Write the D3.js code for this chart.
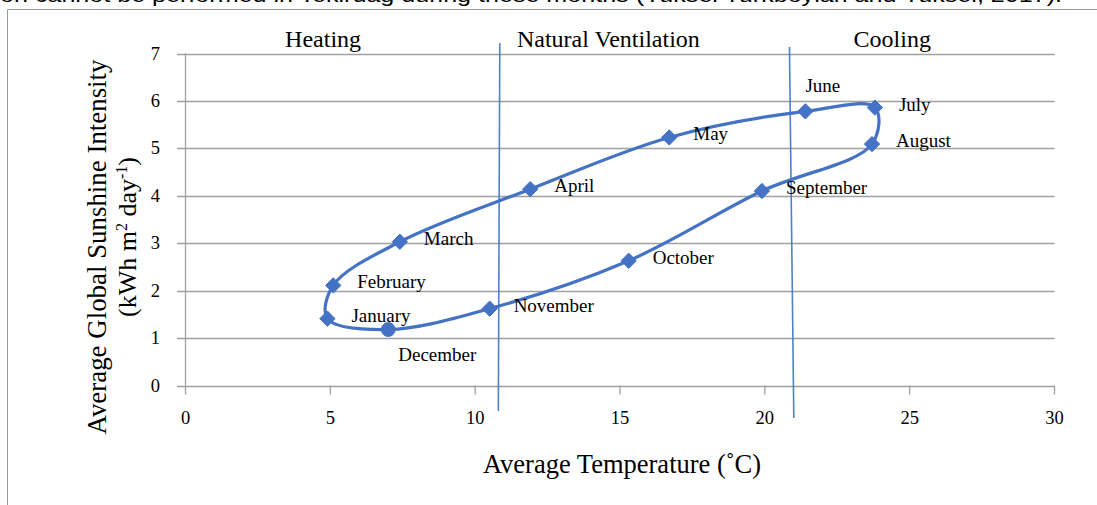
<!DOCTYPE html>
<html><head><meta charset="utf-8">
<script src="https://cdn.jsdelivr.net/npm/d3@7"></script>
<style>html,body{margin:0;padding:0;background:#fff;overflow:hidden}</style>
</head><body>
<svg id="c" width="1097" height="505"></svg>
<script>
const months = ["January","February","March","April","May","June","July","August","September","October","November","December"];
const temperature = [4.9, 5.1, 7.4, 11.9, 16.7, 21.4, 23.8, 23.7, 19.9, 15.3, 10.5, 7.0];
const sunshine = [1.41, 2.11, 3.03, 4.14, 5.23, 5.78, 5.86, 5.09, 4.10, 2.63, 1.62, 1.18];
const markerShapes = ["diamond","diamond","diamond","diamond","diamond","diamond","diamond","diamond","diamond","diamond","diamond","circle"];
const xTicks = [0,5,10,15,20,25,30];
const yTicks = [0,1,2,3,4,5,6,7];
const zones = ["Heating","Natural Ventilation","Cooling"];
const zoneCenters = [4.75, 14.6, 24.4];
const boundaryTop = [10.85, 20.85];
const boundaryBottom = [10.8, 21.0];

const svg = d3.select("#c");
const x = d3.scaleLinear().domain([0,30]).range([185.5,1054.5]);
const y = d3.scaleLinear().domain([0,7]).range([385.5,53.5]);
const blue = "#4472C4";
const serif = "'Liberation Serif','Times New Roman',serif";

// page frame and cut-off text above
svg.append("line").attr("x1",7.5).attr("x2",1097).attr("y1",9.5).attr("y2",9.5).attr("stroke","#9a9a9a").attr("stroke-width",1);
svg.append("line").attr("x1",7.5).attr("x2",7.5).attr("y1",9.5).attr("y2",505).attr("stroke","#9a9a9a").attr("stroke-width",1);
svg.append("text").attr("x",0).attr("y",2).attr("font-family","'Liberation Sans','Open Sans',sans-serif").attr("font-size",20)
  .attr("textLength",1062).attr("lengthAdjust","spacingAndGlyphs").attr("fill","#000")
  .text("on cannot be performed in Tekirdag during these months (Yuksel Turkboylari and Yuksel, 2017).");

// gridlines
svg.append("g").selectAll("line").data(yTicks).join("line")
  .attr("x1",177).attr("x2",x(30)).attr("y1",d=>Math.round(y(d))+0.5).attr("y2",d=>Math.round(y(d))+0.5)
  .attr("stroke","#a0a0a0").attr("stroke-width",1.3);
// y axis line
svg.append("line").attr("x1",x(0)).attr("x2",x(0)).attr("y1",y(7)).attr("y2",y(0)).attr("stroke","#a0a0a0").attr("stroke-width",1.3);
// x axis ticks
svg.append("g").selectAll("line").data(xTicks).join("line")
  .attr("x1",d=>x(d)).attr("x2",d=>x(d)).attr("y1",y(0)).attr("y2",y(0)+9)
  .attr("stroke","#a0a0a0").attr("stroke-width",1.3);

// tick labels
svg.append("g").selectAll("text").data(xTicks).join("text")
  .attr("x",d=>x(d)).attr("y",424).attr("text-anchor","middle").attr("font-family",serif).attr("font-size",18.5).text(d=>d);
svg.append("g").selectAll("text").data(yTicks).join("text")
  .attr("x",160).attr("y",d=>y(d)+6).attr("text-anchor","end").attr("font-family",serif).attr("font-size",18.5).text(d=>d);

// boundaries
svg.append("g").selectAll("line").data(boundaryTop).join("line")
  .attr("x1",d=>x(d)).attr("y1",(d,i)=>i===0?43:47)
  .attr("x2",(d,i)=>x(boundaryBottom[i])).attr("y2",(d,i)=>i===0?411:418)
  .attr("stroke","#4f81c7").attr("stroke-width",1.6);

// zone labels
svg.append("g").selectAll("text").data(zones).join("text")
  .attr("x",(d,i)=>x(zoneCenters[i])).attr("y",47).attr("text-anchor","middle")
  .attr("font-family",serif).attr("font-size",24).text(d=>d);

// curve
const pts = temperature.map((t,i)=>[x(t),y(sunshine[i])]);
svg.append("path").attr("d",d3.line().curve(d3.curveCatmullRomClosed.alpha(0.5))(pts))
  .attr("fill","none").attr("stroke",blue).attr("stroke-width",3.2);

// markers
const sym = {diamond: d3.symbol().type(d3.symbolDiamond2).size(150), circle: d3.symbol().type(d3.symbolCircle).size(150)};
svg.append("g").selectAll("path").data(months).join("path")
  .attr("transform",(d,i)=>`translate(${pts[i][0]},${pts[i][1]})`)
  .attr("d",(d,i)=>sym[markerShapes[i]]()).attr("fill",blue).attr("stroke",blue).attr("stroke-width",1);

// month labels
const labelOff = {December:[10,31], June:[0,-19]};
svg.append("g").selectAll("text").data(months).join("text")
  .attr("x",(d,i)=>pts[i][0] + (labelOff[d]?labelOff[d][0]:24))
  .attr("y",(d,i)=>pts[i][1] + (labelOff[d]?labelOff[d][1]:3))
  .attr("font-family",serif).attr("font-size",19).text(d=>d);

// axis titles
svg.append("text").attr("x",622).attr("y",473).attr("text-anchor","middle").attr("font-family",serif).attr("font-size",26.5)
  .text("Average Temperature (˚C)");
svg.append("text").attr("transform","translate(106,247) rotate(-90)").attr("text-anchor","middle")
  .attr("font-family",serif).attr("font-size",27).attr("textLength",375).attr("lengthAdjust","spacingAndGlyphs")
  .text("Average  Global Sunshine Intensity");
const yt2 = svg.append("text").attr("transform","translate(136,237) rotate(-90)").attr("text-anchor","middle")
  .attr("font-family",serif).attr("font-size",26);
yt2.append("tspan").text("(kWh m");
yt2.append("tspan").attr("font-size",16).attr("dy",-9).text("2");
yt2.append("tspan").attr("dy",9).text(" day");
yt2.append("tspan").attr("font-size",16).attr("dy",-9).text("-1");
yt2.append("tspan").attr("dy",9).text(")");
</script>
</body></html>
